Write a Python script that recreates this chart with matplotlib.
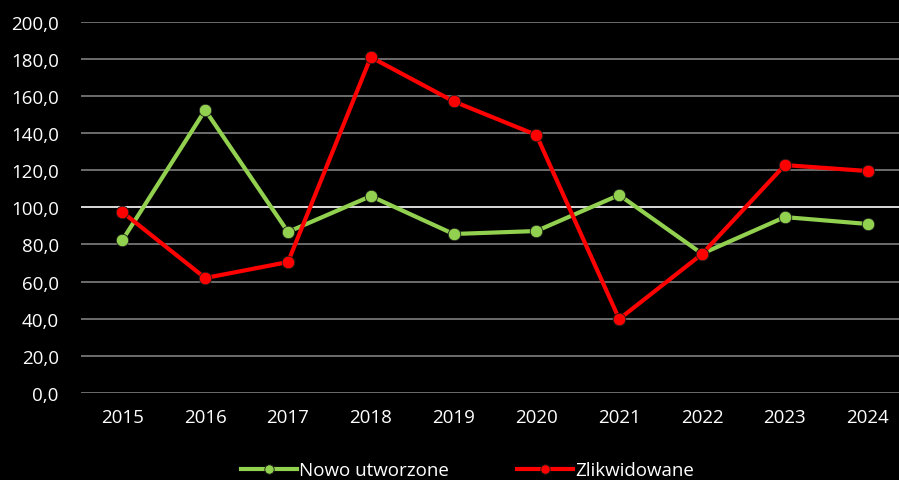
import matplotlib.pyplot as plt
from matplotlib.ticker import FuncFormatter

years = ['2015', '2016', '2017', '2018', '2019', '2020', '2021', '2022', '2023', '2024']
nowo = [82.3, 152.3, 86.7, 106.0, 85.6, 87.2, 106.6, 75.0, 94.7, 91.0]
zlikw = [97.4, 61.9, 70.5, 180.8, 157.0, 138.9, 39.8, 74.8, 122.7, 119.5]

plt.rcParams['font.family'] = ['Open Sans', 'DejaVu Sans']

fig = plt.figure(figsize=(8.99, 4.81), dpi=100, facecolor='black')
ax = fig.add_axes([81 / 899, 87 / 481, 828 / 899, 371.5 / 481], facecolor='black')

x = range(len(years))
ax.plot(x, nowo, color='#92d050', lw=3, marker='o', ms=9,
        mec='#1a1a1a', mew=0.6, label='Nowo utworzone', zorder=3)
ax.plot(x, zlikw, color='#ff0000', lw=3, marker='o', ms=9,
        mec='#1a1a1a', mew=0.6, label='Zlikwidowane', zorder=4)

ax.set_xlim(-0.5, len(years) - 0.5)
ax.set_ylim(0, 200)
ax.set_yticks(range(0, 201, 20))
ax.yaxis.set_major_formatter(FuncFormatter(lambda v, p: f'{v:.1f}'.replace('.', ',')))
ax.set_xticks(list(x))
ax.set_xticklabels(years)

for v in range(0, 201, 20):
    ax.axhline(v, color='white' if v == 100 else '#7f7f7f', lw=1.2, zorder=1)

for s in ax.spines.values():
    s.set_visible(False)
ax.tick_params(colors='white', labelsize=13.5, length=0)
ax.tick_params(axis='y', pad=16)
ax.tick_params(axis='x', pad=11)

fig.legend(loc='center', bbox_to_anchor=(0.52, 0.02), ncol=2, frameon=False,
           fontsize=13.5, labelcolor='white', handlelength=3.0, handletextpad=0.1,
           columnspacing=3.6, markerscale=0.75)

fig.savefig('out.png', dpi=100, facecolor='black')
